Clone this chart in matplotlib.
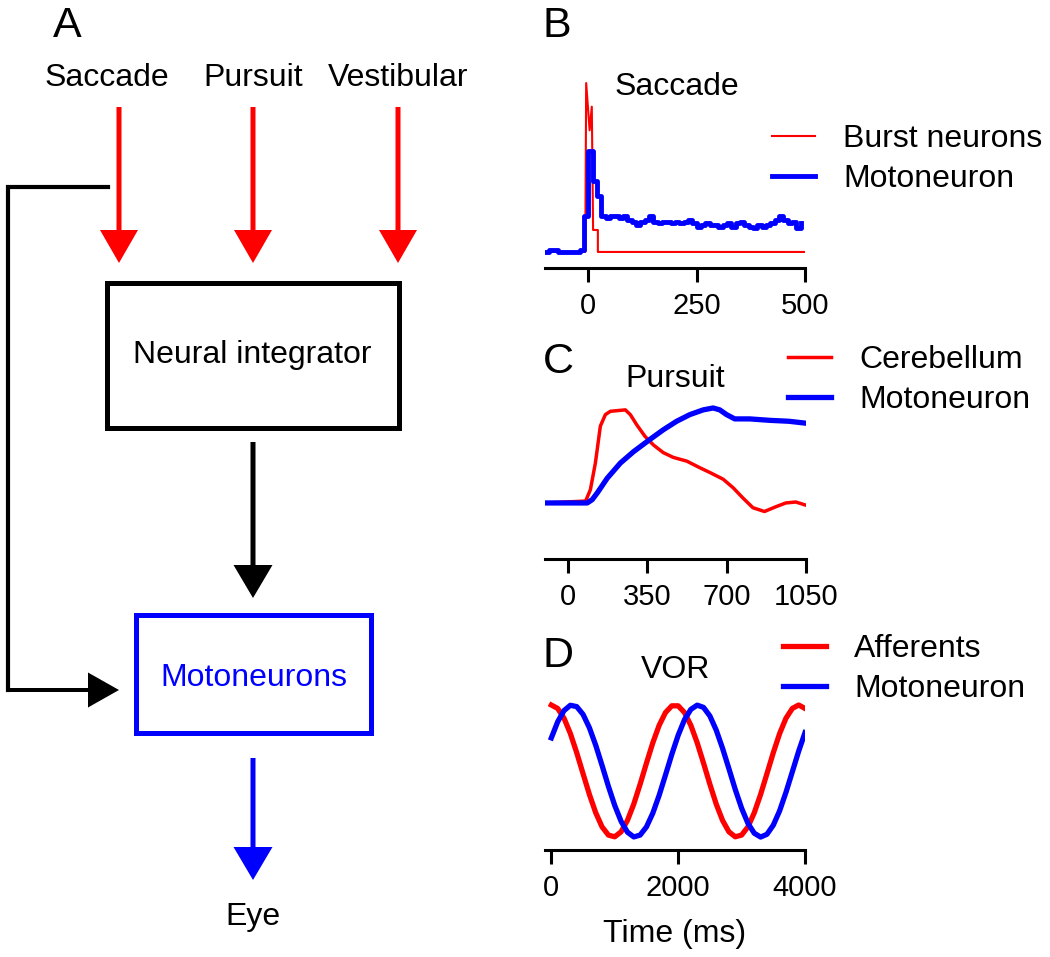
import numpy as np
import matplotlib
matplotlib.use("Agg")
import matplotlib.pyplot as plt
from matplotlib.patches import Rectangle

plt.rcParams['font.family'] = ['Liberation Sans', 'DejaVu Sans']

# ---- data ----
# B: saccade, burst neurons (line) and motoneuron (10 ms bins, steps)
burst_t = [-100, -7, -5, 3, 8, 11, 22, 22, 500]
burst_r = [0, 0, 1.0, 0.72, 0.86, 0.13, 0.13, 0, 0]
moto_b_edges = np.arange(-100, 500, 10)
moto_b_r = [0.0, 0.01, 0.01, 0.0, 0.0, 0.0, 0.0, 0.0, 0.01, 0.21,
            0.60, 0.42, 0.33, 0.21, 0.20, 0.21, 0.21, 0.20, 0.21, 0.19,
            0.18, 0.16, 0.18, 0.19, 0.21, 0.18, 0.17, 0.18, 0.18, 0.17,
            0.18, 0.17, 0.18, 0.19, 0.17, 0.15, 0.16, 0.17, 0.16, 0.16,
            0.15, 0.16, 0.17, 0.15, 0.17, 0.18, 0.16, 0.15, 0.14, 0.16,
            0.15, 0.16, 0.17, 0.19, 0.21, 0.19, 0.17, 0.18, 0.14, 0.17]

# C: pursuit
cb_t = [-100, 79, 100, 122, 144, 166, 188, 254, 276, 305, 341, 378, 421, 465,
        525, 583, 627, 685, 729, 773, 816, 867, 917, 961, 1005, 1045]
cb_r = [0, 0.02, 0.14, 0.42, 0.81, 0.93, 0.965, 0.98, 0.93, 0.82, 0.70, 0.61,
        0.53, 0.48, 0.44, 0.37, 0.32, 0.25, 0.16, 0.05, -0.05, -0.09, -0.04,
        0.0, 0.01, -0.02]
mc_t = [-100, 86, 108, 130, 174, 232, 290, 363, 421, 480, 538, 597, 641, 670,
        700, 736, 802, 889, 975, 1048]
mc_r = [0, 0, 0.035, 0.105, 0.26, 0.42, 0.54, 0.67, 0.77, 0.86, 0.93, 0.98,
        1.0, 0.98, 0.93, 0.885, 0.885, 0.87, 0.86, 0.84]

# D: VOR (100 ms samples)
vor_t = np.arange(0, 4001, 100)
aff_r = [1.0, 0.974, 0.900, 0.784, 0.639, 0.480, 0.323, 0.184, 0.077, 0.015,
         0.002, 0.040, 0.126, 0.25, 0.40, 0.560, 0.714, 0.846, 0.943, 0.994,
         0.994, 0.943, 0.846, 0.714, 0.560, 0.40, 0.25, 0.126, 0.040, 0.002,
         0.015, 0.077, 0.184, 0.323, 0.480, 0.639, 0.784, 0.900, 0.974, 1.0,
         0.974]
mvor_r = [0.751, 0.873, 0.958, 0.998, 0.988, 0.929, 0.828, 0.695, 0.542, 0.384,
          0.239, 0.119, 0.037, 0.001, 0.015, 0.077, 0.181, 0.316, 0.470, 0.627,
          0.771, 0.889, 0.967, 0.999, 0.982, 0.917, 0.810, 0.672, 0.518, 0.361,
          0.219, 0.104, 0.029, 0.000, 0.021, 0.090, 0.199, 0.339, 0.494, 0.650,
          0.791]

RED = '#ff0000'
BLUE = '#0000ff'
W, H = 1050, 957
FS = 23

fig = plt.figure(figsize=(W / 100, H / 100), dpi=100)


def px_rect(l, t, r, b):
    return [l / W, 1 - b / H, (r - l) / W, (b - t) / H]


# ---- panel A: diagram in pixel coordinates ----
axA = fig.add_axes([0, 0, 1, 1])
axA.set_xlim(0, W)
axA.set_ylim(H, 0)
axA.axis('off')

axA.text(67, 37, 'A', fontsize=31, ha='center', va='baseline')
for x, lab in [(107, 'Saccade'), (253, 'Pursuit'), (398, 'Vestibular')]:
    axA.text(x, 86, lab, fontsize=FS, ha='center', va='baseline')
    axA.arrow(x if lab != 'Saccade' else 119, 107, 0, 156, width=5, head_width=38,
              head_length=33, length_includes_head=True, color=RED, lw=0)

axA.add_patch(Rectangle((107, 283), 292, 145, fill=False, ec='black', lw=3.6))
axA.text(252, 363, 'Neural integrator', fontsize=FS, ha='center', va='baseline')
axA.arrow(253, 442, 0, 156, width=5, head_width=39, head_length=33,
          length_includes_head=True, color='black', lw=0)

axA.add_patch(Rectangle((136, 615), 235, 118, fill=False, ec=BLUE, lw=3.6))
axA.text(254, 686, 'Motoneurons', fontsize=FS, ha='center', va='baseline', color=BLUE)
axA.arrow(253, 758, 0, 122, width=5, head_width=39, head_length=33,
          length_includes_head=True, color=BLUE, lw=0)
axA.text(253, 925, 'Eye', fontsize=FS, ha='center', va='baseline')

# feedback path
axA.plot([108, 8, 8], [187, 187, 690], color='black', lw=3, solid_joinstyle='miter')
axA.arrow(6.5, 690, 112.5, 0, width=4, head_width=35, head_length=31,
          length_includes_head=True, color='black', lw=0)


def style(ax, xlim, ylim, ticks):
    ax.set_xlim(*xlim)
    ax.set_ylim(*ylim)
    for s in ['left', 'right', 'top']:
        ax.spines[s].set_visible(False)
    ax.spines['bottom'].set_linewidth(2.2)
    ax.set_yticks([])
    ax.set_xticks(ticks)
    ax.tick_params(axis='x', length=10, width=2.2, pad=7, labelsize=21)
    ax.patch.set_alpha(0)


def legend(ax, x, y):
    ax.legend(loc='center left', bbox_to_anchor=(x / W, 1 - y / H),
              bbox_transform=fig.transFigure, frameon=False, fontsize=FS,
              borderpad=0, borderaxespad=0, handlelength=1.35,
              handletextpad=0.87, labelspacing=0.31)


# ---- panel B ----
axB = fig.add_axes(px_rect(545, 80, 805, 268))
axB.plot(burst_t, burst_r, color=RED, lw=1.5, label='Burst neurons')
axB.step(moto_b_edges, moto_b_r, where='post', color=BLUE, lw=3.5, label='Motoneuron')
style(axB, (-100, 500), (-0.095, 1.018), [0, 250, 500])
legend(axB, 772, 159)
fig.text(543 / W, 1 - 37 / H, 'B', fontsize=31, ha='left', va='baseline')
fig.text(677 / W, 1 - 95 / H, 'Saccade', fontsize=FS, ha='center', va='baseline')

# ---- panel C ----
axC = fig.add_axes(px_rect(545, 400, 806, 559))
axC.plot(cb_t, cb_r, color=RED, lw=2.5, label='Cerebellum')
axC.plot(mc_t, mc_r, color=BLUE, lw=3.8, label='Motoneuron')
style(axC, (-100, 1050), (-0.59, 1.084), [0, 350, 700, 1050])
legend(axC, 788, 380)
fig.text(543 / W, 1 - 373 / H, 'C', fontsize=31, ha='left', va='baseline')
fig.text(675 / W, 1 - 387 / H, 'Pursuit', fontsize=FS, ha='center', va='baseline')

# ---- panel D ----
axD = fig.add_axes(px_rect(545, 700, 805, 850))
axD.plot(vor_t, aff_r, color=RED, lw=3.8, label='Afferents')
axD.plot(vor_t, mvor_r, color=BLUE, lw=3.8, label='Motoneuron')
style(axD, (-100, 4000), (-0.098, 1.038), [0, 2000, 4000])
legend(axD, 783, 669)
fig.text(543 / W, 1 - 667 / H, 'D', fontsize=31, ha='left', va='baseline')
fig.text(676 / W, 1 - 678 / H, 'VOR', fontsize=FS, ha='center', va='baseline')
fig.text(675 / W, 1 - 942 / H, 'Time (ms)', fontsize=FS, ha='center', va='baseline')

fig.savefig('out.png', dpi=100)
